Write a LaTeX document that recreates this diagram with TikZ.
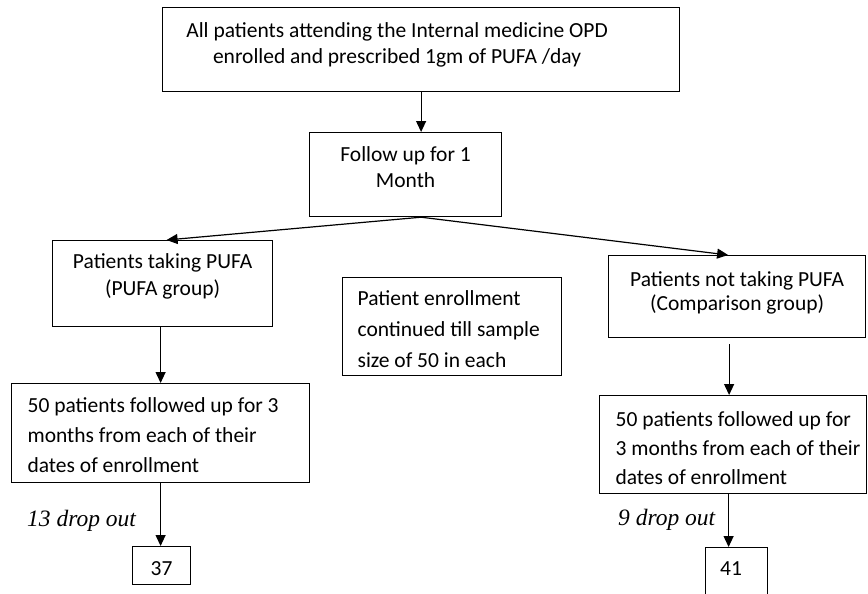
\documentclass[tikz,border=0pt]{standalone}
\usepackage{fontspec}
\setmainfont{Carlito}
\newfontfamily\tnr{Liberation Serif}
\usetikzlibrary{arrows.meta}
\tikzset{
  flowbox/.style={draw, line width=1.2pt, inner sep=0pt, anchor=north west},
  arr/.style={line width=1.2pt, -{Triangle[length=11pt,width=10pt]}},
  droplabel/.style={anchor=base west, inner sep=0pt, font=\tnr\itshape\fontsize{23.5pt}{28pt}\selectfont}
}
\newcommand{\cbox}[5]{\parbox[c][#2][t]{#1}{\centering\fontsize{21.5pt}{#4}\selectfont\rule{0pt}{#3}#5}}
\newcommand{\lbox}[6]{\parbox[c][#2][t]{#1}{\raggedright\leftskip=#5\rightskip=0pt plus 1fil\fontsize{21.5pt}{#4}\selectfont\rule{0pt}{#3}#6}}
\begin{document}
\begin{tikzpicture}[x=1pt,y=-1pt]
\useasboundingbox (0,0) rectangle (868,594);
\clip (0,0) rectangle (868,594);
\node[flowbox] (T) at (162,7) {\parbox[c][84pt][t]{517pt}{\centering\rightskip=48pt plus 1fil\fontsize{21.5pt}{26pt}\selectfont\rule{0pt}{30pt}All patients attending the Internal medicine OPD\\enrolled and prescribed 1gm of PUFA /day}};
\node[flowbox] (F) at (309,132) {\cbox{192pt}{84pt}{29pt}{26pt}{Follow up for 1\\Month}};
\node[flowbox] (L) at (52,240) {\cbox{220pt}{86pt}{28pt}{27pt}{Patients taking PUFA\\(PUFA group)}};
\node[flowbox] (M) at (342,277) {\lbox{219pt}{98pt}{28pt}{31pt}{15pt}{Patient enrollment\\continued till sample\\size of 50 in each}};
\node[flowbox] (R) at (608,255) {\cbox{257pt}{82pt}{31pt}{24pt}{Patients not taking PUFA\\(Comparison group)}};
\node[flowbox] (L2) at (11,383) {\lbox{298pt}{99pt}{29pt}{30pt}{16pt}{50 patients followed up for 3\\months from each of their\\dates of enrollment}};
\node[flowbox] (R2) at (599,395) {\lbox{267pt}{98pt}{31pt}{29pt}{16pt}{50 patients followed up for\\3 months from each of their\\dates of enrollment}};
\node[flowbox] (n37) at (132,546) {\cbox{58pt}{38pt}{29pt}{26pt}{37}};
\node[flowbox] (n41) at (705,547) {\cbox{62pt}{73pt}{28pt}{26pt}{41\hspace*{11pt}}};
\node[droplabel] (d13) at (27,526) {13 drop out};
\node[droplabel] (d9) at (618,525) {9 drop out};
\coordinate (apex) at (T.south |- F.south);
\draw[arr] (T.south) -- (T.south |- F.north);
\draw[arr] (apex) -- ([xshift=4pt]L.north);
\draw[arr] (apex) -- ([xshift=-9pt]R.north);
\draw[arr] (L2.north |- L.south) -- (L2.north);
\draw[arr] (L2.south) -- (L2.south |- n37.north);
\coordinate (ra) at ([xshift=-8pt,yshift=-6pt]R.south);
\draw[arr] (ra) -- (ra |- R2.north);
\coordinate (rb) at ([xshift=-8pt]n41.north);
\draw[arr] (rb |- R2.south) -- (rb);
\end{tikzpicture}
\end{document}
